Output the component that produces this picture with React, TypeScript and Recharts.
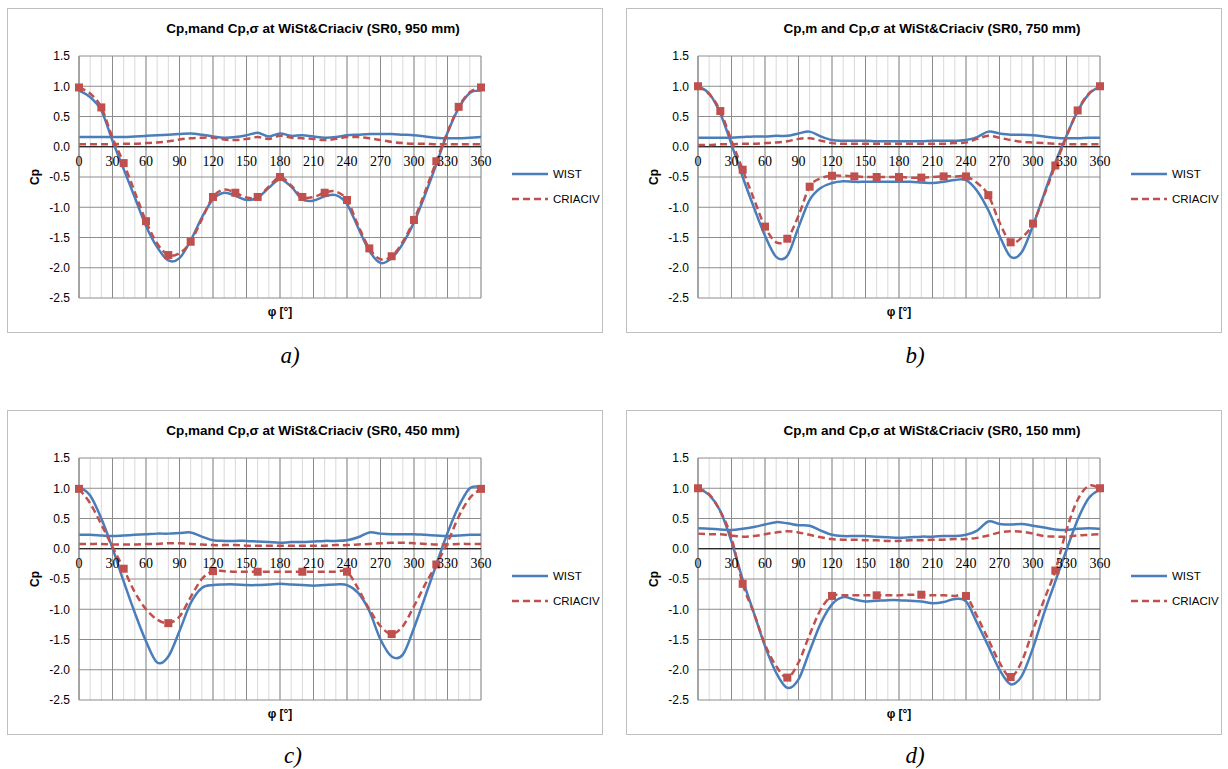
import React from 'react';
import { ComposedChart, Line, XAxis, YAxis, CartesianGrid, ReferenceLine, Legend } from 'recharts';

// angle positions (deg) shared by all four panels
const ANGLES = [0, 10, 20, 30, 40, 50, 60, 70, 80, 90, 100, 110, 120, 130, 140, 150, 160, 170, 180,
  190, 200, 210, 220, 230, 240, 250, 260, 270, 280, 290, 300, 310, 320, 330, 340, 350, 360];
const X_TICKS = [0, 30, 60, 90, 120, 150, 180, 210, 240, 270, 300, 330, 360];
const Y_TICKS = [-2.5, -2, -1.5, -1, -0.5, 0, 0.5, 1, 1.5];
const MARKS_20 = [0, 20, 40, 60, 80, 100, 120, 140, 160, 180, 200, 220, 240, 260, 280, 300, 320, 340, 360];
const MARKS_40 = [0, 40, 80, 120, 160, 200, 240, 280, 320, 360];

// SR0, 950 mm
const wistMeanA = [0.93, 0.82, 0.6, 0.1, -0.37, -0.84, -1.31, -1.66, -1.88, -1.84, -1.55, -1.17, -0.87, -0.76, -0.81, -0.88, -0.84, -0.68, -0.54,
  -0.66, -0.87, -0.89, -0.82, -0.8, -0.95, -1.34, -1.72, -1.92, -1.84, -1.6, -1.25, -0.79, -0.29, 0.23, 0.64, 0.89, 0.93];
const wistSigmaA = [0.16, 0.16, 0.16, 0.16, 0.16, 0.17, 0.18, 0.19, 0.2, 0.21, 0.22, 0.2, 0.17, 0.15, 0.16, 0.19, 0.23, 0.17, 0.22,
  0.18, 0.19, 0.17, 0.15, 0.16, 0.19, 0.2, 0.21, 0.21, 0.21, 0.2, 0.19, 0.17, 0.15, 0.14, 0.14, 0.15, 0.16];
const criMeanA = [0.98, 0.88, 0.65, 0.15, -0.27, -0.75, -1.23, -1.6, -1.79, -1.76, -1.57, -1.2, -0.83, -0.71, -0.76, -0.84, -0.83, -0.66, -0.5,
  -0.64, -0.83, -0.83, -0.76, -0.74, -0.88, -1.3, -1.68, -1.86, -1.81, -1.57, -1.21, -0.74, -0.24, 0.24, 0.66, 0.9, 0.98];
const criSigmaA = [0.04, 0.04, 0.04, 0.04, 0.05, 0.05, 0.06, 0.07, 0.09, 0.12, 0.14, 0.15, 0.15, 0.12, 0.11, 0.13, 0.16, 0.13, 0.18,
  0.15, 0.14, 0.13, 0.11, 0.13, 0.16, 0.16, 0.14, 0.11, 0.08, 0.06, 0.05, 0.05, 0.04, 0.04, 0.04, 0.04, 0.04];

// SR0, 750 mm
const wistMeanB = [1.0, 0.88, 0.55, 0.04, -0.5, -1.0, -1.47, -1.82, -1.8, -1.33, -0.88, -0.68, -0.6, -0.57, -0.58, -0.58, -0.58, -0.58, -0.58,
  -0.58, -0.59, -0.6, -0.58, -0.55, -0.55, -0.73, -1.05, -1.47, -1.82, -1.74, -1.3, -0.78, -0.26, 0.18, 0.59, 0.87, 1.0];
const wistSigmaB = [0.15, 0.15, 0.15, 0.15, 0.16, 0.17, 0.17, 0.18, 0.18, 0.22, 0.25, 0.17, 0.11, 0.1, 0.1, 0.1, 0.09, 0.09, 0.09,
  0.09, 0.09, 0.1, 0.1, 0.1, 0.11, 0.16, 0.25, 0.22, 0.2, 0.2, 0.19, 0.17, 0.15, 0.14, 0.14, 0.15, 0.15];
const criMeanB = [1.0, 0.87, 0.59, 0.1, -0.38, -0.86, -1.32, -1.58, -1.52, -1.14, -0.66, -0.52, -0.48, -0.48, -0.49, -0.5, -0.5, -0.5, -0.5,
  -0.51, -0.51, -0.5, -0.49, -0.49, -0.49, -0.6, -0.8, -1.25, -1.58, -1.5, -1.27, -0.8, -0.31, 0.17, 0.6, 0.88, 1.0];
const criSigmaB = [0.03, 0.03, 0.04, 0.04, 0.05, 0.05, 0.06, 0.07, 0.09, 0.13, 0.14, 0.1, 0.06, 0.05, 0.05, 0.05, 0.05, 0.05, 0.05,
  0.05, 0.05, 0.05, 0.05, 0.06, 0.07, 0.13, 0.18, 0.15, 0.11, 0.08, 0.07, 0.06, 0.05, 0.04, 0.04, 0.04, 0.04];

// SR0, 450 mm
const wistMeanC = [1.03, 0.88, 0.5, 0.01, -0.54, -1.06, -1.53, -1.88, -1.78, -1.36, -0.9, -0.65, -0.6, -0.59, -0.59, -0.6, -0.6, -0.59, -0.58,
  -0.59, -0.6, -0.61, -0.6, -0.59, -0.6, -0.73, -1.03, -1.5, -1.78, -1.75, -1.31, -0.79, -0.26, 0.26, 0.7, 1.0, 1.02];
const wistSigmaC = [0.23, 0.23, 0.22, 0.21, 0.22, 0.23, 0.24, 0.25, 0.25, 0.26, 0.27, 0.2, 0.14, 0.13, 0.13, 0.13, 0.12, 0.11, 0.1,
  0.11, 0.11, 0.12, 0.13, 0.13, 0.14, 0.19, 0.27, 0.25, 0.24, 0.24, 0.24, 0.23, 0.22, 0.21, 0.22, 0.23, 0.23];
const criMeanC = [0.99, 0.75, 0.4, 0.03, -0.33, -0.72, -1.0, -1.17, -1.23, -1.12, -0.8, -0.5, -0.37, -0.37, -0.38, -0.38, -0.38, -0.38, -0.38,
  -0.38, -0.38, -0.38, -0.38, -0.38, -0.38, -0.66, -1.0, -1.28, -1.41, -1.28, -0.95, -0.59, -0.26, 0.1, 0.53, 0.84, 0.99];
const criSigmaC = [0.08, 0.08, 0.08, 0.07, 0.07, 0.07, 0.08, 0.08, 0.09, 0.09, 0.08, 0.07, 0.06, 0.06, 0.06, 0.05, 0.05, 0.05, 0.05,
  0.05, 0.05, 0.05, 0.05, 0.06, 0.06, 0.07, 0.08, 0.09, 0.1, 0.1, 0.09, 0.08, 0.07, 0.07, 0.08, 0.08, 0.08];

// SR0, 150 mm
const wistMeanD = [1.0, 0.89, 0.62, 0.12, -0.51, -1.06, -1.61, -2.05, -2.3, -2.16, -1.69, -1.23, -0.92, -0.8, -0.84, -0.87, -0.86, -0.85, -0.85,
  -0.86, -0.87, -0.9, -0.88, -0.83, -0.87, -1.23, -1.61, -2.0, -2.24, -2.1, -1.64, -1.06, -0.54, -0.02, 0.48, 0.84, 0.98];
const wistSigmaD = [0.34, 0.33, 0.32, 0.31, 0.33, 0.36, 0.4, 0.44, 0.42, 0.39, 0.38, 0.3, 0.23, 0.21, 0.21, 0.21, 0.2, 0.19, 0.18,
  0.19, 0.2, 0.2, 0.21, 0.21, 0.23, 0.3, 0.45, 0.41, 0.4, 0.41, 0.38, 0.35, 0.32, 0.31, 0.33, 0.34, 0.33];
const criMeanD = [1.0, 0.9, 0.62, 0.18, -0.58, -1.06, -1.58, -1.94, -2.13, -1.88, -1.42, -1.0, -0.78, -0.77, -0.77, -0.77, -0.77, -0.77, -0.77,
  -0.76, -0.76, -0.77, -0.77, -0.78, -0.78, -1.12, -1.5, -1.88, -2.12, -1.86, -1.34, -0.84, -0.36, 0.31, 0.81, 1.04, 1.0];
const criSigmaD = [0.25, 0.24, 0.24, 0.22, 0.2, 0.21, 0.24, 0.27, 0.29, 0.27, 0.23, 0.19, 0.16, 0.15, 0.15, 0.14, 0.14, 0.13, 0.13,
  0.14, 0.14, 0.15, 0.15, 0.16, 0.16, 0.18, 0.22, 0.27, 0.29, 0.28, 0.25, 0.21, 0.2, 0.2, 0.22, 0.23, 0.24];

const BLUE = '#4A7EBB';
const RED = '#C0504D';
const SANS = '"Liberation Sans", Arial, sans-serif';
const SERIF = '"Liberation Serif", "Times New Roman", serif';

const W = 596;
const H = 325;
const MARGIN = { top: 48, right: 122, bottom: 15, left: 20 };
const Y_AXIS_W = 52;
const X_AXIS_H = 20;
const PLOT_H = H - MARGIN.top - MARGIN.bottom - X_AXIS_H;
const ZERO_Y = MARGIN.top + PLOT_H * (1.5 / 4);

const LEGEND = [
  { name: 'WIST', color: BLUE, dash: undefined },
  { name: 'CRIACIV', color: RED, dash: '7 4' },
];

// Excel-like smoothed line (Catmull-Rom through every point)
const smooth = (context: any) => {
  let pts: number[][] = [];
  return {
    areaStart() {},
    areaEnd() {},
    lineStart() { pts = []; },
    point(x: number, y: number) { pts.push([+x, +y]); },
    lineEnd() {
      if (!pts.length) return;
      context.moveTo(pts[0][0], pts[0][1]);
      for (let i = 0; i < pts.length - 1; i++) {
        const p0 = pts[i - 1] || pts[i];
        const p1 = pts[i];
        const p2 = pts[i + 1];
        const p3 = pts[i + 2] || p2;
        context.bezierCurveTo(
          p1[0] + (p2[0] - p0[0]) / 6, p1[1] + (p2[1] - p0[1]) / 6,
          p2[0] - (p3[0] - p1[0]) / 6, p2[1] - (p3[1] - p1[1]) / 6,
          p2[0], p2[1]
        );
      }
    },
  };
};

const XTick = (props: any) => (
  <text x={props.x} y={ZERO_Y + 19} textAnchor="middle" fontFamily={SERIF} fontSize={14} fill="#000">
    {props.payload.value}
  </text>
);

const Square = (props: any) => {
  if (props.payload.mk == null || props.cy == null) return <g key={`n-${props.index}`} />;
  return <rect key={`m-${props.index}`} x={props.cx - 4} y={props.cy - 4} width={8} height={8} fill={RED} />;
};

const LegendBox = () => (
  <svg width={90} height={44}>
    {LEGEND.map((it, i) => (
      <g key={it.name}>
        <line x1={0} x2={36} y1={10 + i * 25} y2={10 + i * 25} stroke={it.color} strokeWidth={2.5} strokeDasharray={it.dash} />
        <text x={41} y={14 + i * 25} fontFamily={SANS} fontSize={11.5} fill="#000">{it.name}</text>
      </g>
    ))}
  </svg>
);

interface PanelProps {
  title: string;
  left: number;
  top: number;
  wistMean: number[];
  wistSigma: number[];
  criMean: number[];
  criSigma: number[];
  marks: number[];
}

function Panel({ title, left, top, wistMean, wistSigma, criMean, criSigma, marks }: PanelProps) {
  const data = ANGLES.map((a, i) => ({
    phi: a,
    wm: wistMean[i],
    ws: wistSigma[i],
    cm: criMean[i],
    cs: criSigma[i],
    mk: marks.includes(a) ? criMean[i] : null,
  }));

  return (
    <div style={{ position: 'absolute', left, top, width: W, height: H }}>
      <div style={{ position: 'absolute', inset: 0, border: '1px solid #BFBFBF', boxSizing: 'border-box' }} />
      <div style={{ position: 'absolute', left: 8, top: 13, width: W, textAlign: 'center', fontFamily: SANS, fontWeight: 'bold', fontSize: 13.5 }}>
        {title}
      </div>
      <ComposedChart width={W} height={H} data={data} margin={MARGIN}>
        <XAxis xAxisId="minor" dataKey="phi" type="number" domain={[0, 360]} ticks={ANGLES} interval={0} hide />
        <CartesianGrid xAxisId="minor" horizontal={false} stroke="#D9D9D9" />
        <CartesianGrid stroke="#8C8C8C" />
        <XAxis
          dataKey="phi"
          type="number"
          domain={[0, 360]}
          ticks={X_TICKS}
          interval={0}
          axisLine={false}
          tickLine={false}
          tick={<XTick />}
          height={X_AXIS_H}
          label={{ value: 'φ [°]', position: 'insideBottom', offset: 2, fontFamily: SANS, fontWeight: 'bold', fontSize: 12, fill: '#000' }}
        />
        <YAxis
          type="number"
          domain={[-2.5, 1.5]}
          ticks={Y_TICKS}
          interval={0}
          width={Y_AXIS_W}
          axisLine={{ stroke: '#8C8C8C' }}
          tickLine={false}
          tickSize={6}
          tickMargin={3}
          tickFormatter={(v: number) => v.toFixed(1)}
          tick={{ fontFamily: SANS, fontSize: 12, fill: '#000' }}
          label={{ value: 'Cp', angle: -90, position: 'insideLeft', offset: 8, fontFamily: SANS, fontWeight: 'bold', fontSize: 12, fill: '#000', style: { textAnchor: 'middle' } }}
        />
        <ReferenceLine y={0} stroke="#000" strokeWidth={1} />
        <Legend layout="vertical" align="center" verticalAlign="middle" wrapperStyle={{ left: 505, top: 156, width: 90 }} content={() => <LegendBox />} />
        <Line dataKey="ws" type={smooth as any} stroke={BLUE} strokeWidth={2.5} dot={false} isAnimationActive={false} legendType="none" />
        <Line dataKey="wm" name="WIST" type={smooth as any} stroke={BLUE} strokeWidth={2.5} dot={false} isAnimationActive={false} />
        <Line dataKey="cs" type={smooth as any} stroke={RED} strokeWidth={2.5} strokeDasharray="7 4" dot={false} isAnimationActive={false} legendType="none" />
        <Line dataKey="cm" name="CRIACIV" type={smooth as any} stroke={RED} strokeWidth={2.5} strokeDasharray="7 4" dot={false} isAnimationActive={false} />
        <Line dataKey="mk" stroke="none" dot={<Square />} activeDot={false} isAnimationActive={false} legendType="none" connectNulls={false} />
      </ComposedChart>
    </div>
  );
}

const Caption = ({ text, x, y }: { text: string; x: number; y: number }) => (
  <div style={{ position: 'absolute', left: x - 30, top: y - 14, width: 60, textAlign: 'center', fontFamily: SERIF, fontStyle: 'italic', fontSize: 23 }}>
    {text}
  </div>
);

export default function App() {
  return (
    <div style={{ position: 'relative', width: 1228, height: 769, background: '#fff' }}>
      <style>{'body{margin:0}'}</style>
      <Panel title="Cp,mand Cp,σ at WiSt&Criaciv (SR0, 950 mm)" left={7} top={8}
        wistMean={wistMeanA} wistSigma={wistSigmaA} criMean={criMeanA} criSigma={criSigmaA} marks={MARKS_20} />
      <Panel title="Cp,m and Cp,σ at WiSt&Criaciv (SR0, 750 mm)" left={626} top={8}
        wistMean={wistMeanB} wistSigma={wistSigmaB} criMean={criMeanB} criSigma={criSigmaB} marks={MARKS_20} />
      <Panel title="Cp,mand Cp,σ at WiSt&Criaciv (SR0, 450 mm)" left={7} top={410}
        wistMean={wistMeanC} wistSigma={wistSigmaC} criMean={criMeanC} criSigma={criSigmaC} marks={MARKS_40} />
      <Panel title="Cp,m and Cp,σ at WiSt&Criaciv (SR0, 150 mm)" left={626} top={410}
        wistMean={wistMeanD} wistSigma={wistSigmaD} criMean={criMeanD} criSigma={criSigmaD} marks={MARKS_40} />
      <Caption text="a)" x={290} y={357} />
      <Caption text="b)" x={915} y={357} />
      <Caption text="c)" x={293} y={757} />
      <Caption text="d)" x={915} y={757} />
    </div>
  );
}
